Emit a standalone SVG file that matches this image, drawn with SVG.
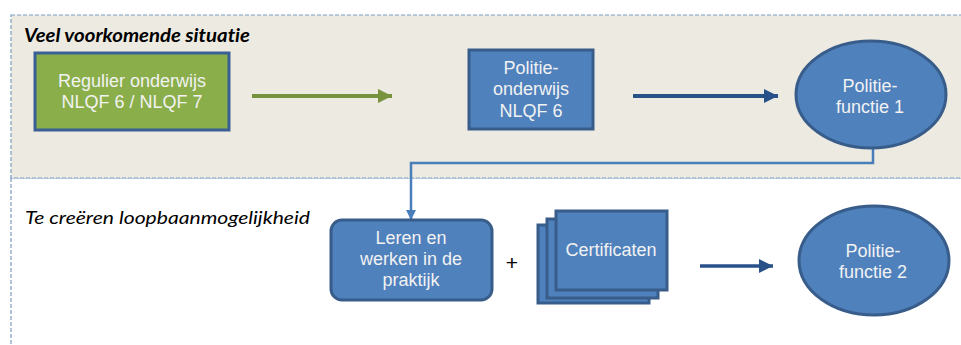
<svg xmlns="http://www.w3.org/2000/svg" width="961" height="345" viewBox="0 0 961 345">
  <style>
    .lbl { font-family: "Liberation Sans", Arial, sans-serif; font-size: 18px; fill: #F2F2F2; text-anchor: middle; }
    .head { font-family: Lato, "Open Sans", sans-serif; font-size: 18px; fill: #000; font-style: italic; font-variant-ligatures: none; }
    .box { fill: #4F81BD; stroke: #385D8A; stroke-width: 3; }
    .zone { stroke: #7F9DC6; stroke-width: 1.2; stroke-dasharray: 4 2; }
  </style>
  <defs>
    <marker id="tipGreen" markerUnits="userSpaceOnUse" markerWidth="16" markerHeight="14" refX="14" refY="7" orient="auto">
      <polygon points="0,0 14,7 0,14" fill="#76923C"/>
    </marker>
    <marker id="tipNavy" markerUnits="userSpaceOnUse" markerWidth="16" markerHeight="14" refX="14" refY="7" orient="auto">
      <polygon points="0,0 14,7 0,14" fill="#28518A"/>
    </marker>
    <marker id="tipBlue" markerUnits="userSpaceOnUse" markerWidth="12" markerHeight="12" refX="10" refY="5" orient="auto">
      <polygon points="0,0 10,5 0,10" fill="#4A7EBB"/>
    </marker>
  </defs>

  <!-- background zones -->
  <rect x="0" y="0" width="961" height="345" fill="#FFFFFF"/>
  <rect class="zone" x="11" y="178" width="960" height="200" fill="none"/>
  <rect class="zone" x="11" y="15" width="960" height="163" fill="#EDEBE1"/>

  <text class="head" x="24" y="42" font-weight="bold" textLength="226" lengthAdjust="spacingAndGlyphs">Veel voorkomende situatie</text>
  <text class="head" x="25" y="224" textLength="285" lengthAdjust="spacingAndGlyphs">Te creëren loopbaanmogelijkheid</text>

  <!-- connectors -->
  <g id="connectors" fill="none">
    <line x1="252" y1="96" x2="392" y2="96" stroke="#76923C" stroke-width="4" marker-end="url(#tipGreen)"/>
    <line x1="633" y1="96" x2="778" y2="96" stroke="#28518A" stroke-width="4" marker-end="url(#tipNavy)"/>
    <polyline points="873,148 873,163 411,163 411,220" stroke="#4A7EBB" stroke-width="2.5" marker-end="url(#tipBlue)"/>
    <line x1="700" y1="266" x2="773" y2="266" stroke="#28518A" stroke-width="3.5" marker-end="url(#tipNavy)"/>
  </g>

  <g id="regulier-onderwijs">
    <rect x="35" y="53" width="194" height="77" fill="#8AAE4A" stroke="#3A5F95" stroke-width="3"/>
    <text class="lbl" x="132" y="87">Regulier onderwijs</text>
    <text class="lbl" x="132" y="108">NLQF 6 / NLQF 7</text>
  </g>

  <g id="politie-onderwijs">
    <rect class="box" x="469" y="50" width="124" height="79"/>
    <text class="lbl" x="531" y="74">Politie-</text>
    <text class="lbl" x="531" y="95">onderwijs</text>
    <text class="lbl" x="531" y="117">NLQF 6</text>
  </g>

  <g id="politiefunctie-1">
    <ellipse class="box" cx="871" cy="94.5" rx="75" ry="53.5"/>
    <text class="lbl" x="870" y="92">Politie-</text>
    <text class="lbl" x="870" y="113">functie 1</text>
  </g>

  <g id="leren-en-werken">
    <rect class="box" x="331" y="220" width="161" height="80" rx="11" ry="11"/>
    <text class="lbl" x="411" y="244">Leren en</text>
    <text class="lbl" x="411" y="265">werken in de</text>
    <text class="lbl" x="411" y="286">praktijk</text>
  </g>

  <text x="512" y="270" font-family="Liberation Sans, Arial, sans-serif" font-size="21" fill="#000" text-anchor="middle">+</text>

  <g id="certificaten">
    <rect class="box" x="538" y="225" width="111" height="78"/>
    <rect class="box" x="547" y="219" width="111" height="79"/>
    <rect class="box" x="556" y="211" width="111" height="79"/>
    <text class="lbl" x="611" y="256">Certificaten</text>
  </g>

  <g id="politiefunctie-2">
    <ellipse class="box" cx="874" cy="260.5" rx="75" ry="54.5"/>
    <text class="lbl" x="873" y="257">Politie-</text>
    <text class="lbl" x="873" y="278">functie 2</text>
  </g>
</svg>
